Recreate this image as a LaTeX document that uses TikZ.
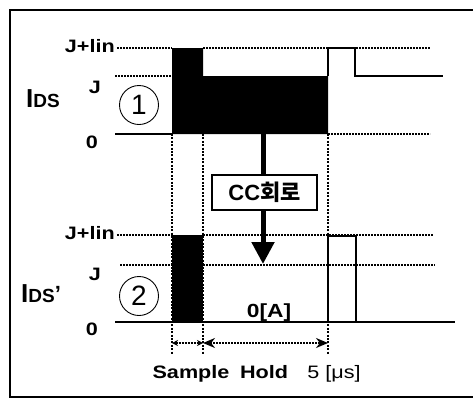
\documentclass[tikz,border=0pt]{standalone}
\usepackage{fontspec}
\setmainfont{Liberation Sans}
\newfontfamily\krfont{Noto Sans CJK KR}
\usetikzlibrary{arrows.meta}
\newcommand\wtxt[1]{\scalebox{1.2}[1]{#1}}
\tikzset{
  refline/.style={line width=1.3pt, dash pattern=on 2.2pt off 0.8pt},
  vdots/.style={line width=2pt, dash pattern=on 2pt off 1.4pt},
  heavy/.style={line width=2.4pt},
  lbl/.style={font=\fontsize{18}{18}\selectfont\bfseries, inner sep=0pt, anchor=base},
  circ/.style={circle, draw, line width=0.9pt, minimum size=39pt, inner sep=0pt, font=\fontsize{28}{28}\selectfont},
  ccbox/.style={draw, line width=1.3pt, minimum width=105pt, minimum height=35pt, inner sep=0pt}
}
\begin{document}
\begin{tikzpicture}[x=1pt,y=-1pt]
\useasboundingbox (0,0) rectangle (473,400);
% frame
\draw[line width=2pt] (473,10) -- (10,10) -- (10,397) -- (473,397);

% vertical dotted guides
\foreach \xx in {172,203,328}{
  \draw[vdots] (\xx,134) -- (\xx,354);
}

% ---- top diagram ----
\draw[refline] (117,48) -- (172,48);
\draw[refline] (203,48) -- (430,48);
\draw[refline] (115,76) -- (172,76);
\draw[heavy] (115,134) -- (172,134);
\draw[refline] (328,134) -- (430,134);
\fill (172,48) -- (203,48) -- (203,76) -- (328,76) -- (328,134) -- (172,134) -- cycle;
\draw[heavy] (328,76) -- (328,48) -- (355,48) -- (355,77);
\draw[line width=2pt] (354,76) -- (443,76);

% ---- bottom diagram ----
\draw[refline] (117,235) -- (172,235);
\draw[refline] (203,235) -- (433,235);
\draw[refline] (120,265) -- (172,265);
\draw[refline] (203,265) -- (435,265);
\fill (172,235) rectangle (203,322);
\draw[heavy] (115,322) -- (455,322);
\draw[heavy] (328,322) -- (328,236) -- (356,236) -- (356,322);

% labels
\node[lbl, anchor=base east] (jl1) at (115,52) {\wtxt{J+lin}};
\node[lbl] (j1) at (95,93) {\wtxt{J}};
\node[lbl] (z1) at (92,148) {\wtxt{0}};
\node[lbl, anchor=base east] (jl2) at (115,239) {\wtxt{J+lin}};
\node[lbl] (j2) at (95,280) {\wtxt{J}};
\node[lbl] (z2) at (92,335) {\wtxt{0}};

\node[inner sep=0pt, anchor=base west, font=\bfseries] (ids1) at (26,107)
  {\fontsize{26}{26}\selectfont I\fontsize{19}{19}\selectfont DS};
\node[inner sep=0pt, anchor=base west, font=\bfseries] (ids2) at (21,302)
  {\fontsize{26}{26}\selectfont I\fontsize{19}{19}\selectfont DS\fontsize{22}{22}\selectfont\raisebox{1pt}{'}};

\node[circ] (c1) at (139,105) {1};
\node[circ] (c2) at (139,296) {2};

\node[lbl, font=\fontsize{19}{19}\selectfont\bfseries] (zeroA) at (269,317) {\wtxt{0[A]}};

% CC circuit arrow
\coordinate (src) at (263,134);
\coordinate (dst) at (263,264);
\node[ccbox] (cc) at (264.5,192.5) {\fontsize{22}{22}\selectfont\bfseries CC\krfont\bfseries 회로};
\draw[line width=5pt] (src) -- (src |- cc.north);
\draw[line width=5pt, -{Triangle[width=22pt,length=22pt]}] (src |- cc.south) -- (dst);

% sample / hold arrows
\coordinate (a1) at (172,343);
\coordinate (a2) at (203,343);
\coordinate (a3) at (328,343);
\draw[line width=1.6pt, dash pattern=on 2pt off 1pt, {Stealth[length=6pt,width=6pt]}-{Stealth[length=6pt,width=6pt]}] (a1) -- (a2);
\draw[line width=1.6pt, dash pattern=on 2pt off 1pt, {Stealth[length=12pt,width=10pt]}-{Stealth[length=12pt,width=10pt]}] (a2) -- (a3);

\node[lbl] (samp) at (191,378) {\wtxt{Sample}};
\node[lbl] (hold) at (264,378) {\wtxt{Hold}};
\node[lbl, font=\fontsize{18}{18}\selectfont] (five) at (334,378) {\wtxt{5 [μs]}};
\end{tikzpicture}
\end{document}
